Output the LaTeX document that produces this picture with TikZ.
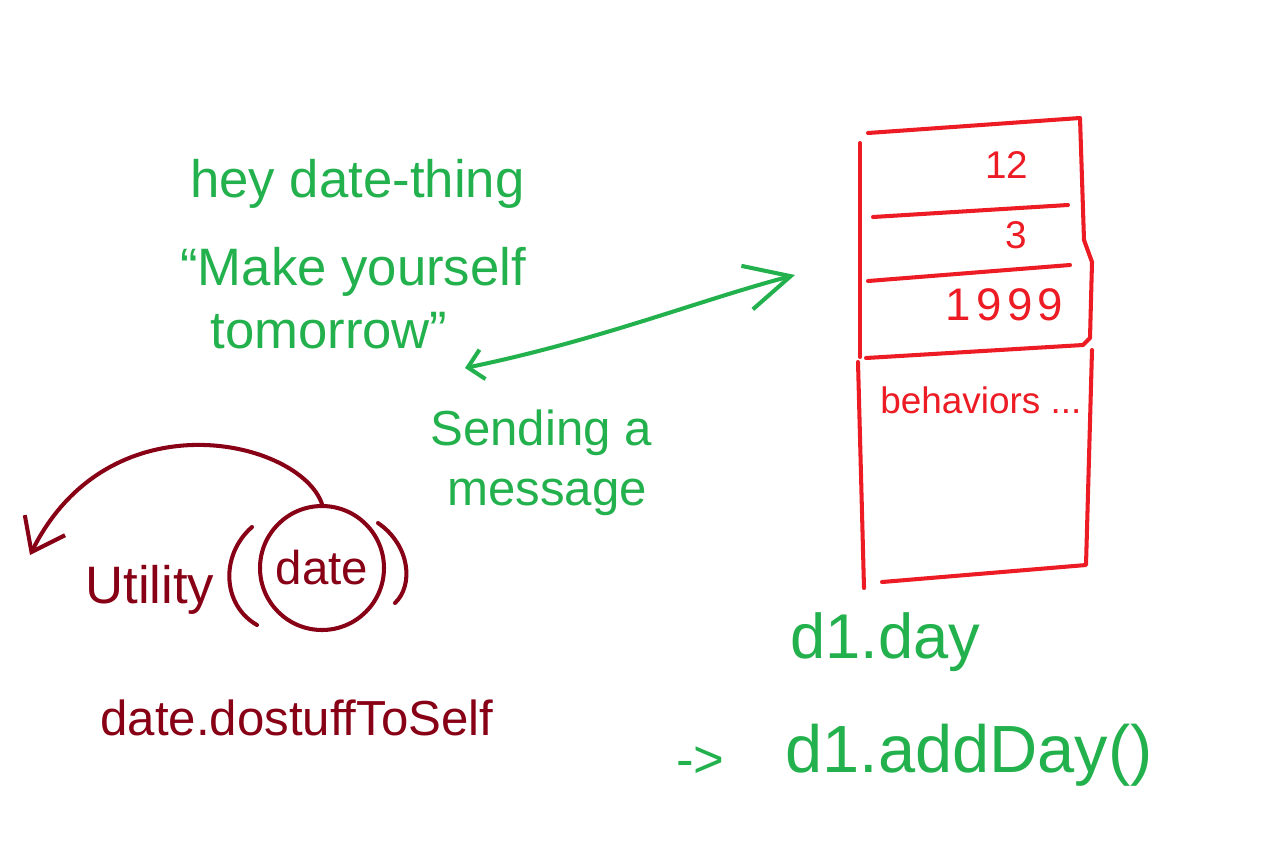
\documentclass[tikz,border=0pt]{standalone}
\usepackage{fontspec}
\setmainfont{Liberation Sans}
\usepackage{xcolor}
\usetikzlibrary{arrows.meta, positioning}

\definecolor{pgreen}{RGB}{34,177,76}
\definecolor{pred}{RGB}{237,28,36}
\definecolor{pdark}{RGB}{136,0,21}

\tikzset{
    greentext/.style={text=pgreen, inner sep=0pt, anchor=base west},
    redtext/.style={text=pred, inner sep=0pt, anchor=base west},
    darktext/.style={text=pdark, inner sep=0pt, anchor=base west},
    pen/.style={line width=2.3pt, line cap=round, line join=round},
    fs/.style={font=\fontsize{#1}{#1}\selectfont}
}

\begin{document}
\begin{tikzpicture}[x=0.02cm, y=-0.02cm]
            \useasboundingbox[fill=white] (0,0) rectangle (1267,853);

            % the message
            \node[greentext, fs=30] (hey) at (190,197) {hey date-thing};
            \node[greentext, fs=30] (make) at (180,285) {“Make yourself};
            \node[greentext, fs=30] (tomorrow) at (210,348) {tomorrow”};
            \node[greentext, fs=28] (sending) at (430,445) {Sending a};
            \node[greentext, fs=28] (message) at (447,505) {message};

            \coordinate (msgleft) at (465,368);
            \coordinate (msgright) at (795,275);
            \draw[pen, pgreen, {Straight Barb[length=3mm, width=6mm]}-{Straight Barb[length=9mm, width=9mm]}]
            (msgleft) .. controls (600,340) and (700,300) .. (msgright);

            % the object
            \draw[pen, pred] (860,143) -- (860,357);
            \draw[pen, pred] (868,133) -- (1080,118) -- (1084,240) -- (1092,262) -- (1090,338) -- (1083,345) -- (866,358);
            \draw[pen, pred] (873,217) -- (1068,205);
            \draw[pen, pred] (868,281) -- (1070,265);
            \draw[pen, pred] (858,362) -- (864,588);
            \draw[pen, pred] (882,582) -- (1086,565) -- (1092,350);

            \node[redtext, fs=22] (month) at (985,178) {12};
            \node[redtext, fs=22] (day) at (1005,248) {3};
            \node[redtext, font={\addfontfeature{LetterSpace=12}\fontsize{26}{26}\selectfont}] (year) at (945,320) {1999};
            \node[redtext, fs=21] (behav) at (880,413) {behaviors ...};

            \node[greentext, fs=36] (d1day) at (790,658) {d1.day};
            \node[greentext, fs=38] (adddayd) at (785,772) {d1.addDay()};
            \node[greentext, fs=30, anchor=base east, left=12mm of adddayd.base west, yshift=2mm] (then) {->};

            % the utility way
            \node[darktext, fs=30] (utility) at (85,603) {Utility};
            \node[circle, draw=pdark, pen, text=pdark, fs=27, minimum size=2.48cm, inner sep=0pt] (date) at (322,568) {date};
            \draw[pen, pdark] (252,527) .. controls (220,555) and (222,605) .. (257,625);
            \draw[pen, pdark] (378,523) .. controls (410,545) and (414,585) .. (395,603);
            \node[darktext, fs=28] (dostuff) at (100,735) {date.dostuffToSelf};

            \coordinate (back) at (30,555);
            \draw[pen, pdark, -{Straight Barb[length=6mm, width=9mm]}]
            (date.north) .. controls (300,440) and (110,395) .. (back);
        \end{tikzpicture}
\end{document}
